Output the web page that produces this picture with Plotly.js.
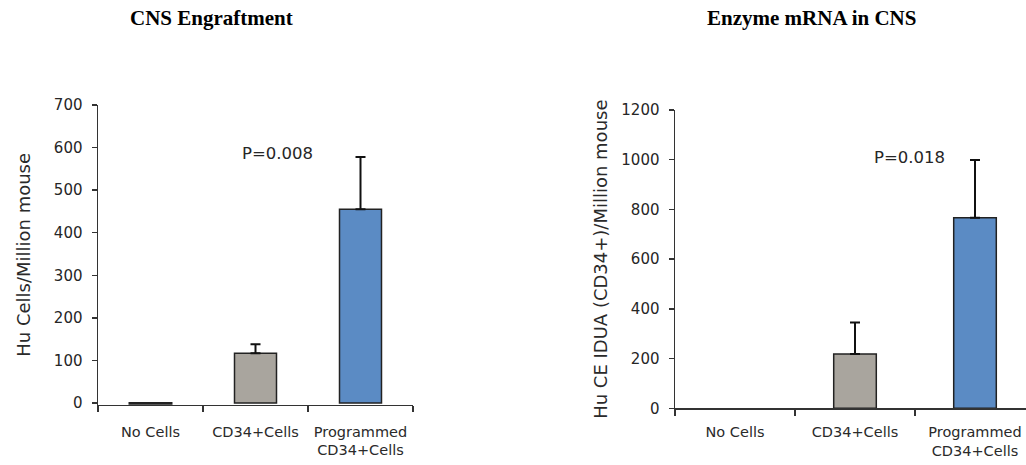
<!DOCTYPE html>
<html>
<head>
<meta charset="utf-8">
<script src="https://cdn.plot.ly/plotly-3.0.1.min.js"></script>
<style>html,body{margin:0;padding:0;background:#fff;}#chart{width:1026px;height:465px;}</style>
</head>
<body>
<div id="chart"></div>
<script>
// ---- data ----
const categories = ["No Cells", "CD34+Cells", "Programmed<br>CD34+Cells"];
const engraftValues = [-3, 117, 455];
const engraftErrors = [NaN, 21, 123];
const mrnaValues = [0, 218, 767];
const mrnaErrors = [NaN, 127, 232];
const barColors = ["#a9a59e", "#a9a59e", "#5b8bc4"];
const engraftTicks = [0, 100, 200, 300, 400, 500, 600, 700];
const mrnaTicks = [0, 200, 400, 600, 800, 1000, 1200];
const titles = ["CNS Engraftment", "Enzyme mRNA in CNS"];
const yTitles = ["Hu Cells/Million mouse", "Hu CE IDUA (CD34+)/Million mouse"];
const pLabels = ["P=0.008", "P=0.018"];

const W = 1026, H = 465;
const px = v => v / W, py = v => 1 - v / H;
const sans = "DejaVu Sans, Arial, sans-serif";
const tickFont = {family: sans, size: 15, color: "#262626"};
const catFont = {family: sans, size: 14.5, color: "#2a2a2a"};
const lineCol = "#333";

const traces = [
  {type: "bar", x: categories, y: engraftValues, xaxis: "x", yaxis: "y", width: 0.4,
   marker: {color: barColors, line: {color: "#222", width: [2, 1.5, 1.5]}},
   error_y: {type: "data", symmetric: false, array: engraftErrors, arrayminus: [NaN, 0, 0], color: "#111", thickness: 2, width: 5},
   hoverinfo: "skip", showlegend: false},
  {type: "bar", x: categories, y: mrnaValues, xaxis: "x2", yaxis: "y2", width: 0.355,
   marker: {color: barColors, line: {color: "#222", width: [0, 1.5, 1.5]}},
   error_y: {type: "data", symmetric: false, array: mrnaErrors, arrayminus: [NaN, 0, 0], color: "#111", thickness: 2, width: 5},
   hoverinfo: "skip", showlegend: false}
];

const xCommon = {type: "category", showline: true, linecolor: lineCol, linewidth: 1.5,
  ticks: "outside", tickson: "boundaries", ticklen: 6, tickwidth: 1.5, tickcolor: lineCol,
  tickfont: catFont, showgrid: false, zeroline: false, fixedrange: true, ticklabelstandoff: 13};
const yCommon = {showline: true, linecolor: lineCol, linewidth: 1.5, ticks: "outside", ticklen: 5,
  tickwidth: 1.5, tickcolor: lineCol, tickfont: tickFont, showgrid: false, zeroline: false, fixedrange: true,
  tickmode: "array", ticklabelstandoff: 6};

const layout = {
  width: W, height: H, autosize: false,
  margin: {l: 0, r: 0, t: 0, b: 0},
  paper_bgcolor: "#fff", plot_bgcolor: "#fff",
  showlegend: false, bargap: 0.6,
  xaxis: Object.assign({}, xCommon, {domain: [px(98), px(413)], anchor: "y", range: [-0.5, 2.5]}),
  yaxis: Object.assign({}, yCommon, {domain: [py(404.7), py(105)], anchor: "x", range: [-4, 700],
    tickvals: engraftTicks,
    title: {text: yTitles[0], font: {family: sans, size: 18, color: "#2a2a2a"}, standoff: 18}}),
  xaxis2: Object.assign({}, xCommon, {domain: [px(675), 1], anchor: "y2", range: [-0.5, 2.425], ticklabelstandoff: 10}),
  yaxis2: Object.assign({}, yCommon, {domain: [py(408.3), py(110)], anchor: "x2", range: [0, 1200],
    tickvals: mrnaTicks,
    title: {text: yTitles[1], font: {family: sans, size: 18, color: "#2a2a2a"}, standoff: 9}}),
  annotations: [
    {text: "<b>" + titles[0] + "</b>", xref: "paper", yref: "paper", x: px(211), y: py(18), xanchor: "center", yanchor: "middle",
     showarrow: false, font: {family: "Liberation Serif, Times New Roman, serif", size: 21, color: "#000"}},
    {text: "<b>" + titles[1] + "</b>", xref: "paper", yref: "paper", x: px(811), y: py(18), xanchor: "center", yanchor: "middle",
     showarrow: false, font: {family: "Liberation Serif, Times New Roman, serif", size: 21, color: "#000"}},
    {text: pLabels[0], xref: "x", yref: "y", x: 1.21, y: 587, xanchor: "center", yanchor: "middle", showarrow: false,
     font: {family: sans, size: 16.5, color: "#262626"}},
    {text: pLabels[1], xref: "x2", yref: "y2", x: 1.45, y: 1008, xanchor: "center", yanchor: "middle", showarrow: false,
     font: {family: sans, size: 16.5, color: "#262626"}}
  ]
};

Plotly.newPlot("chart", traces, layout, {displayModeBar: false, staticPlot: true});
</script>
</body>
</html>
